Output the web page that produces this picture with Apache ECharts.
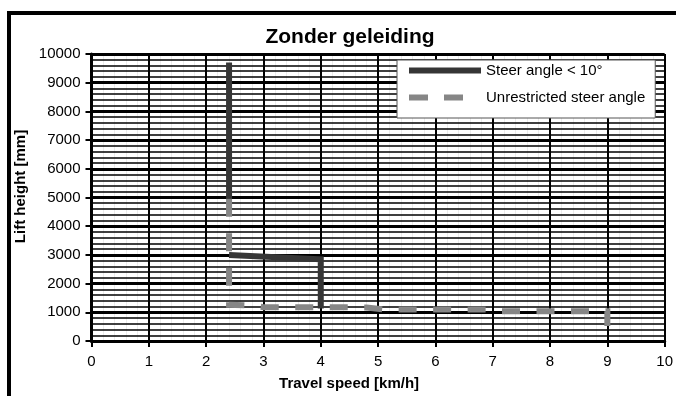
<!DOCTYPE html>
<html>
<head>
<meta charset="utf-8">
<script src="https://cdn.jsdelivr.net/npm/echarts@6/dist/echarts.min.js"></script>
<style>
html,body{margin:0;padding:0;background:#fff;}
#chart{width:676px;height:396px;}
</style>
</head>
<body>
<div id="chart"></div>
<script>
var titleText = 'Zonder geleiding';
var xAxisName = 'Travel speed [km/h]';
var yAxisName = 'Lift height [mm]';
var seriesNames = ['Steer angle < 10°', 'Unrestricted steer angle'];
// Steer angle < 10° : [speed, height]; null breaks the line
var steerLimited = [[2.4, 9700], [2.4, 4960], [2.4, null], [2.4, 2996], [4, 2846], [4, 1135]];
// Unrestricted steer angle
var steerFree = [[2.4, 4960], [2.4, 1260], [2.8, 1235], [3.0, 1180], [4.8, 1170], [5.1, 1100], [6.9, 1100], [7.1, 1040], [9, 1040], [9, 520]];

var chart = echarts.init(document.getElementById('chart'), null, {renderer: 'canvas'});
var font = 'Liberation Sans, Arial, sans-serif';
chart.setOption({
  animation: false,
  backgroundColor: '#fff',
  graphic: [{
    type: 'rect', z: 100, silent: true,
    shape: {x: 9, y: 13, width: 720, height: 440},
    style: {fill: null, stroke: '#000', lineWidth: 4}
  }],
  title: {
    text: titleText, left: 345, top: 22, textAlign: 'center',
    textStyle: {fontFamily: font, fontSize: 21, fontWeight: 'bold', color: '#000'}
  },
  legend: {
    left: 397, top: 60, orient: 'vertical',
    itemWidth: 72, itemHeight: 15, itemGap: 12,
    padding: [3, 10, 13, 9],
    backgroundColor: '#fff', borderColor: '#555', borderWidth: 1,
    textStyle: {fontFamily: font, fontSize: 15, color: '#000'},
    itemStyle: {opacity: 0},
    data: [
      {name: seriesNames[0], lineStyle: {type: 'solid', width: 6}},
      {name: seriesNames[1], lineStyle: {type: [19, 16, 19, 100], width: 6}}
    ]
  },
  grid: {left: 91.5, right: 5.5, top: 54, bottom: 50.3, containLabel: false},
  xAxis: {
    type: 'value', min: 0, max: 10, interval: 1,
    name: xAxisName, nameLocation: 'middle', nameGap: 35,
    nameTextStyle: {fontFamily: font, fontSize: 15, fontWeight: 'bold', color: '#000', padding: [0, 58, 0, 0]},
    axisLine: {show: true, onZero: false, lineStyle: {color: '#000', width: 3}},
    axisTick: {show: true, inside: false, length: 6, lineStyle: {color: '#000', width: 2}},
    axisLabel: {fontFamily: font, fontSize: 15, color: '#000', margin: 13},
    splitLine: {show: true, lineStyle: {color: '#000', width: 2}},
    minorTick: {show: false, splitNumber: 5},
    minorSplitLine: {show: true, lineStyle: {color: 'rgba(0,0,0,0.08)', width: 1}}
  },
  yAxis: {
    type: 'value', min: 0, max: 10000, interval: 1000,
    name: yAxisName, nameLocation: 'middle', nameGap: 60,
    nameTextStyle: {fontFamily: font, fontSize: 15, fontWeight: 'bold', color: '#000', padding: [0, 0, 0, 22]},
    axisLine: {show: true, onZero: false, lineStyle: {color: '#000', width: 3}},
    axisTick: {show: true, inside: false, length: 6, lineStyle: {color: '#000', width: 2}},
    axisLabel: {fontFamily: font, fontSize: 15, color: '#000', margin: 11, formatter: function (v) { return String(v); }},
    splitLine: {show: true, lineStyle: {color: '#000', width: 3}},
    minorTick: {show: false, splitNumber: 5},
    minorSplitLine: {show: true, lineStyle: {color: '#000', width: 1.5}}
  },
  series: [
    {
      name: seriesNames[0], type: 'line', data: steerLimited,
      symbol: 'none', connectNulls: false, z: 3,
      lineStyle: {color: '#363636', width: 6, cap: 'butt', join: 'miter'},
      itemStyle: {color: '#363636'}
    },
    {
      name: seriesNames[1], type: 'line', data: steerFree,
      symbol: 'none', z: 4,
      lineStyle: {color: '#868686', width: 6, type: [18, 16.5], cap: 'butt', join: 'miter'},
      itemStyle: {color: '#868686'}
    }
  ]
});
</script>
</body>
</html>
